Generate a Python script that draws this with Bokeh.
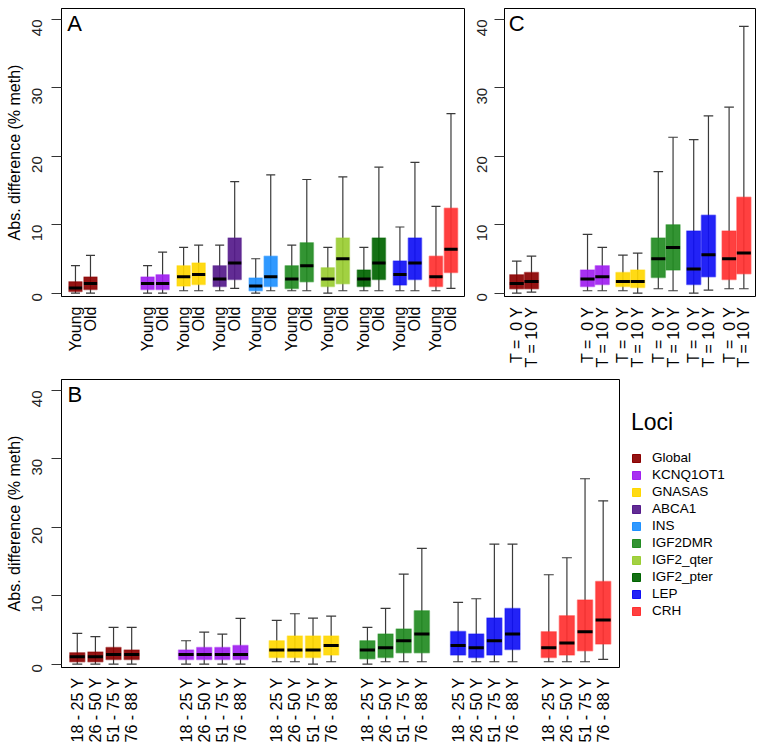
import math
from bokeh.plotting import figure
from bokeh.models import ColumnDataSource, FixedTicker, Label, Legend, LegendItem, Range1d
from bokeh.layouts import column, row
from bokeh.embed import file_html
from bokeh.resources import INLINE

FONT = "Liberation Sans"

# ---------------- data ----------------
loci_all = ["Global", "KCNQ1OT1", "GNASAS", "ABCA1", "INS", "IGF2DMR",
            "IGF2_qter", "IGF2_pter", "LEP", "CRH"]
loci_colors = ["#8B0000", "#A020F0", "#FFD700", "#551A8B", "#1E90FF", "#228B22",
               "#9ACD32", "#006400", "#1010F5", "#FF3030"]

# Panel A: Young / Old per locus
A_loci = loci_all
A_groups = ["Young", "Old"]
A_low  = [0.0, 0.0,  0.0, 0.0,  0.34, 0.34, 0.34, 0.68, 0.0, 0.34,
          0.34, 0.34, 0.0, 0.34, 0.34, 0.34, 0.34, 0.34, 0.34, 0.68]
A_q1   = [0.24, 0.54, 0.54, 0.54, 1.02, 1.27, 0.98, 2.0, 0.34, 0.98,
          0.68, 1.66, 0.98, 1.37, 0.98, 2.0, 1.17, 2.0, 0.98, 3.02]
A_med  = [0.73, 1.41, 1.41, 1.41, 2.39, 2.73, 2.05, 4.39, 1.02, 2.39,
          2.05, 4.0, 2.05, 5.02, 2.05, 4.39, 2.73, 4.39, 2.39, 6.39]
A_q3   = [1.66, 2.34, 2.34, 2.68, 4.0, 4.39, 4.0, 8.05, 2.2, 5.37,
          4.0, 7.37, 3.7, 8.05, 3.37, 8.05, 4.68, 8.05, 5.37, 12.39]
A_high = [4.0, 5.5, 4.0, 6.0, 6.68, 7.02, 7.02, 16.3, 5.02, 17.27,
          7.02, 16.6, 6.68, 16.98, 6.68, 18.4, 9.66, 19.1, 12.68, 26.24]

# Panel B: age classes
B_loci = ["Global", "KCNQ1OT1", "GNASAS", "IGF2DMR", "LEP", "CRH"]
B_groups = ["18 - 25 Y", "26 - 50 Y", "51 - 75 Y", "76 - 88 Y"]
B_low  = [0.0, 0.0, 0.0, 0.0,
          0.0, 0.0, 0.0, 0.0,
          0.34, 0.34, 0.0, 0.34,
          0.0, 0.34, 0.34, 0.34,
          0.34, 0.34, 0.34, 0.34,
          0.34, 0.34, 0.34, 0.68]
B_q1   = [0.34, 0.34, 0.68, 0.68,
          0.68, 0.68, 0.68, 0.68,
          0.97, 0.97, 0.97, 1.32,
          0.78, 0.97, 1.66, 1.66,
          1.32, 0.97, 1.32, 2.14,
          0.97, 1.32, 1.95, 2.92]
B_med  = [1.07, 1.07, 1.41, 1.41,
          1.41, 1.41, 1.41, 1.41,
          2.05, 2.05, 2.05, 2.73,
          2.05, 2.39, 3.41, 4.38,
          2.73, 2.39, 3.41, 4.38,
          2.39, 3.07, 4.73, 6.43]
B_q3   = [1.66, 1.75, 2.44, 2.05,
          2.05, 2.44, 2.44, 2.73,
          3.41, 4.09, 4.09, 4.09,
          3.41, 4.38, 5.12, 7.8,
          4.77, 4.38, 6.72, 8.14,
          4.73, 7.06, 9.35, 12.08]
B_high = [4.48, 4.0, 5.36, 5.36,
          3.41, 4.68, 4.38, 6.67,
          6.38, 7.36, 6.72, 7.02,
          5.36, 8.14, 13.15, 16.9,
          9.01, 9.55, 17.54, 17.54,
          13.06, 15.54, 27.09, 23.87]

# Panel C: T = 0 Y / T = 10 Y
C_loci = ["Global", "KCNQ1OT1", "GNASAS", "IGF2DMR", "LEP", "CRH"]
C_groups = ["T = \u00a00 Y", "T = 10 Y"]
C_low  = [0.0, 0.15, 0.34, 0.34, 0.34, 0.0, 0.63, 0.34, 0.0, 0.44, 0.63, 0.63]
C_q1   = [0.63, 0.63, 0.98, 1.27, 0.98, 0.83, 2.29, 3.37, 1.27, 2.39, 2.0, 2.83]
C_med  = [1.41, 1.71, 2.05, 2.39, 1.71, 1.71, 5.02, 6.68, 3.51, 5.61, 5.02, 5.85]
C_q3   = [2.68, 3.02, 3.37, 4.0, 3.02, 3.37, 8.05, 10.0, 9.07, 11.37, 9.07, 14.0]
C_high = [4.68, 5.41, 8.59, 6.68, 5.56, 5.85, 17.76, 22.78, 22.44, 25.9, 27.17, 38.98]

y_ticks = [0, 10, 20, 30, 40]
y_title = "Abs. difference (% meth)"


def color_of(name):
    return loci_colors[loci_all.index(name)]


def make_fig(w, h, bl, br, bt, bb, xr):
    p = figure(width=w, height=h, x_range=Range1d(*xr), y_range=Range1d(-0.5, 41.6),
               output_backend="svg", toolbar_location=None,
               min_border_left=bl, min_border_right=br, min_border_top=bt, min_border_bottom=bb)
    p.xgrid.visible = False
    p.ygrid.visible = False
    p.outline_line_color = "black"
    p.outline_line_width = 1
    p.outline_line_alpha = 1
    p.background_fill_color = "white"
    p.border_fill_color = "white"
    return p


def style_axes(p, ticks, labels, title=None, standoff=12):
    xa = p.xaxis[0]
    xa.ticker = FixedTicker(ticks=ticks)
    xa.major_label_overrides = {t: l for t, l in zip(ticks, labels)}
    xa.major_label_orientation = math.pi / 2
    xa.axis_line_color = None
    xa.major_tick_line_color = None
    xa.minor_tick_line_color = None
    xa.major_tick_out = 0
    xa.major_label_standoff = 10
    xa.major_label_text_font = FONT
    xa.major_label_text_font_size = "16px"
    xa.major_label_text_color = "black"
    ya = p.yaxis[0]
    ya.ticker = FixedTicker(ticks=y_ticks)
    ya.major_label_orientation = math.pi / 2
    ya.minor_tick_line_color = None
    ya.major_tick_out = 10
    ya.major_tick_in = 0
    ya.major_tick_line_color = "#333333"
    ya.axis_line_color = "black"
    ya.major_label_standoff = standoff
    ya.major_label_text_font = FONT
    ya.major_label_text_font_size = "15px"
    ya.major_label_text_color = "#222222"
    if title:
        ya.axis_label = title
        ya.axis_label_standoff = 2
        ya.axis_label_text_font = FONT
        ya.axis_label_text_font_size = "16px"
        ya.axis_label_text_font_style = "normal"
        ya.axis_label_text_color = "black"


def draw_boxes(p, xs, low, q1, med, q3, high, cols, bw, cw):
    src = ColumnDataSource(dict(
        x=xs, low=low, q1=q1, med=med, q3=q3, high=high, color=cols,
        left=[x - bw / 2 for x in xs], right=[x + bw / 2 for x in xs],
        cl=[x - cw / 2 for x in xs], cr=[x + cw / 2 for x in xs]))
    p.segment(x0="x", y0="low", x1="x", y1="high", line_color="#3a3a3a", line_width=1.2, source=src)
    p.segment(x0="cl", y0="low", x1="cr", y1="low", line_color="#3a3a3a", line_width=1.2, source=src)
    p.segment(x0="cl", y0="high", x1="cr", y1="high", line_color="#3a3a3a", line_width=1.2, source=src)
    p.quad(left="left", right="right", bottom="q1", top="q3", fill_color="color", fill_alpha=0.92,
           line_color="color", line_alpha=0.45, line_width=1.5, source=src)
    p.segment(x0="left", y0="med", x1="right", y1="med", line_color="black", line_width=3, source=src)


def panel_label(p, x, text):
    p.add_layout(Label(x=x, y=41.3, text=text, text_font=FONT, text_font_size="22px",
                       text_baseline="top", text_align="left", text_color="black"))


# ---------------- Panel A ----------------
A_x, A_cols, A_lab = [], [], []
for i, loc in enumerate(A_loci):
    slot = 0 if i == 0 else i + 1
    for j, g in enumerate(A_groups):
        A_x.append(2.4 * slot + j)
        A_cols.append(color_of(loc))
        A_lab.append(g)
pA = make_fig(465, 371, 61, 1, 8, 75, (-0.93, 25.9))
draw_boxes(pA, A_x, A_low, A_q1, A_med, A_q3, A_high, A_cols, 0.88, 0.6)
style_axes(pA, A_x, A_lab, y_title, standoff=14)
panel_label(pA, -0.55, "A")

# ---------------- Panel C ----------------
C_slots = [0, 2, 3, 4, 5, 6]
C_x, C_cols, C_lab = [], [], []
for i, loc in enumerate(C_loci):
    for j, g in enumerate(C_groups):
        C_x.append(2.4 * C_slots[i] + j)
        C_cols.append(color_of(loc))
        C_lab.append(g)
pC = make_fig(295, 371, 39, 5, 8, 75, (-0.83, 16.19))
draw_boxes(pC, C_x, C_low, C_q1, C_med, C_q3, C_high, C_cols, 0.95, 0.65)
style_axes(pC, C_x, C_lab, standoff=12)
panel_label(pC, -0.55, "C")

# ---------------- Panel B ----------------
B_x, B_cols, B_lab = [], [], []
for i, loc in enumerate(B_loci):
    start = 1 if i == 0 else 7 + (i - 1) * 5
    for j, g in enumerate(B_groups):
        B_x.append(start + j)
        B_cols.append(color_of(loc))
        B_lab.append(g)
pB = make_fig(622, 381, 61, 3, 8, 85, (0.13, 30.9))
draw_boxes(pB, B_x, B_low, B_q1, B_med, B_q3, B_high, B_cols, 0.83, 0.55)
style_axes(pB, B_x, B_lab, y_title, standoff=14)
panel_label(pB, 0.46, "B")

# ---------------- Legend area ----------------
pL = figure(width=140, height=381, x_range=Range1d(0, 1), y_range=Range1d(0, 1),
            output_backend="svg", toolbar_location=None,
            min_border_left=0, min_border_right=0, min_border_top=0, min_border_bottom=0)
pL.axis.visible = False
pL.xgrid.visible = False
pL.ygrid.visible = False
pL.outline_line_color = None
items = []
for name, col in zip(loci_all, loci_colors):
    # swatch renderer kept outside the visible range
    r = pL.quad(left=[-3], right=[-2], top=[-2], bottom=[-3], fill_color=col, line_color=col, fill_alpha=0.92)
    items.append(LegendItem(label=name, renderers=[r]))
legend = Legend(items=items, title="Loci", location=(9, 49),
                title_text_font=FONT, title_text_font_size="23px", title_text_font_style="normal",
                title_text_color="black", title_standoff=14,
                label_text_font=FONT, label_text_font_size="13.5px", label_text_color="black",
                glyph_width=10, glyph_height=10, label_standoff=11, spacing=2, label_height=14,
                border_line_color=None, background_fill_alpha=0, margin=0, padding=8)
pL.add_layout(legend, "center")

layout = column(row(pA, pC, spacing=0), row(pB, pL, spacing=0), spacing=0)

open("out.html", "w").write(file_html(layout, INLINE))
